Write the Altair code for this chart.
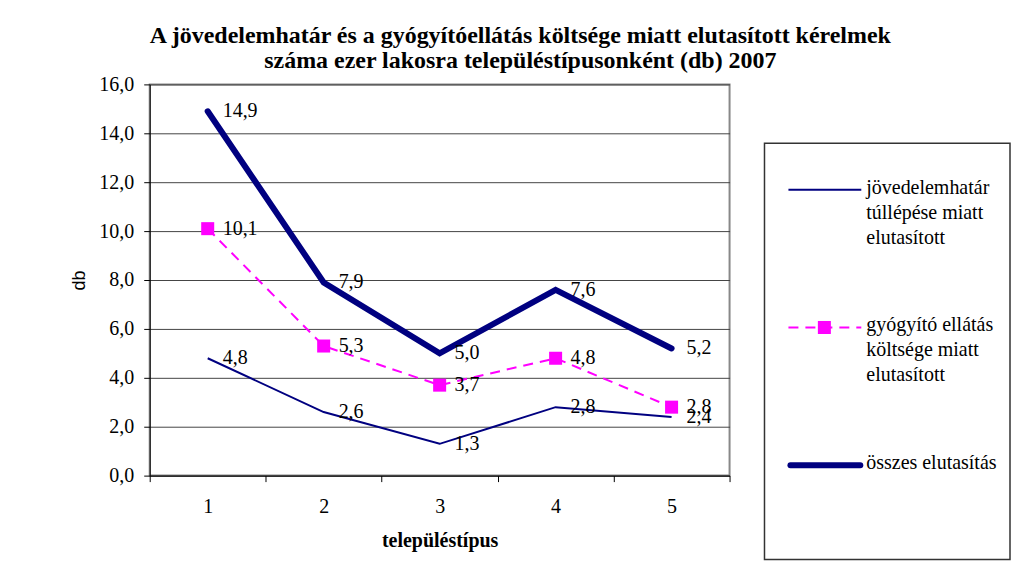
import altair as alt
import pandas as pd

# ---- data ----
categories = ["1", "2", "3", "4", "5"]
series_keys = ["jov", "gyo", "osz"]
jovedelem = [4.8, 2.6, 1.3, 2.8, 2.4]
gyogyito = [10.1, 5.3, 3.7, 4.8, 2.8]
osszes = [14.9, 7.9, 5.0, 7.6, 5.2]
legend_labels = [
    "jövedelemhatár|túllépése miatt|elutasított",
    "gyógyító ellátás|költsége miatt|elutasított",
    "összes elutasítás",
]
y_ticks = [0, 2, 4, 6, 8, 10, 12, 14, 16]
title_lines = [
    "A jövedelemhatár és a gyógyítóellátás költsége miatt elutasított kérelmek",
    "száma ezer lakosra településtípusonként (db) 2007",
]

NAVY = "#000080"
MAGENTA = "#FF00FF"
SERIF = "Liberation Serif"
FS = 20

rows = []
for key, vals in zip(series_keys, [jovedelem, gyogyito, osszes]):
    for c, v in zip(categories, vals):
        rows.append({"tipus": c, "sorozat": key, "ertek": v})
df = pd.DataFrame(rows)

x_enc = alt.X(
    "tipus:O",
    title="településtípus",
    sort=categories,
    scale=alt.Scale(type="band", paddingInner=0, paddingOuter=0),
    axis=alt.Axis(
        labelAngle=0, tickBand="extent", grid=False, domainColor="black",
        tickColor="black", tickSize=6, labelPadding=15, labelFont=SERIF,
        labelFontSize=FS, labelColor="black", titleFont=SERIF, titleFontSize=20,
        titleFontWeight="bold", titleColor="black", titlePadding=14,
    ),
)
y_enc = alt.Y(
    "ertek:Q",
    title="db",
    scale=alt.Scale(domain=[0, 16], nice=False),
    axis=alt.Axis(
        values=y_ticks,
        labelExpr="replace(format(datum.value, '.1f'), '.', ',')",
        domainColor="black", tickColor="black", tickSize=6, labelPadding=10,
        labelFont=SERIF, labelFontSize=FS, labelColor="black",
        gridColor="#444444", gridWidth=1,
        titleFont="Liberation Sans", titleFontSize=18, titleFontWeight="normal",
        titleColor="black", titlePadding=10,
    ),
)

base = alt.Chart(df).encode(x=x_enc, y=y_enc).transform_calculate(
    label="replace(format(datum.ertek, '.1f'), '.', ',')"
)

line1 = base.transform_filter(alt.datum.sorozat == "jov").mark_line(
    color=NAVY, strokeWidth=2
)
line2 = base.transform_filter(alt.datum.sorozat == "gyo").mark_line(
    color=MAGENTA, strokeWidth=2, strokeDash=[10, 7]
)
pts2 = base.transform_filter(alt.datum.sorozat == "gyo").mark_point(
    shape="square", filled=True, size=170, color=MAGENTA, opacity=1
)
line3 = base.transform_filter(alt.datum.sorozat == "osz").mark_line(
    color=NAVY, strokeWidth=6, strokeCap="round", strokeJoin="miter"
)
labels = base.mark_text(
    align="left", baseline="middle", dx=15, font=SERIF, fontSize=FS, color="black"
).encode(text="label:N")

main = alt.layer(line1, line2, pts2, line3, labels).properties(
    width=581, height=392,
    view=alt.ViewBackground(stroke="#888888", strokeWidth=2),
)

# ---- legend panel ----
leg_df = pd.DataFrame({"sorozat": series_keys, "cimke": legend_labels})
leg_y = alt.Y(
    "sorozat:N", sort=series_keys, axis=None,
    scale=alt.Scale(type="point", domain=series_keys, padding=0.51, align=0.33),
)
leg_base = alt.Chart(leg_df).encode(y=leg_y)
r1 = leg_base.transform_filter(alt.datum.sorozat == "jov").mark_rule(
    color=NAVY, strokeWidth=2
).encode(x=alt.value(24), x2=alt.value(97))
r2 = leg_base.transform_filter(alt.datum.sorozat == "gyo").mark_rule(
    color=MAGENTA, strokeWidth=2, strokeDash=[10, 7]
).encode(x=alt.value(24), x2=alt.value(97))
p2 = leg_base.transform_filter(alt.datum.sorozat == "gyo").mark_point(
    shape="square", filled=True, size=170, color=MAGENTA, opacity=1
).encode(x=alt.value(60))
r3 = leg_base.transform_filter(alt.datum.sorozat == "osz").mark_rule(
    color=NAVY, strokeWidth=6, strokeCap="round"
).encode(x=alt.value(26), x2=alt.value(96))
lt = leg_base.mark_text(
    align="left", baseline="top", dy=-12, font=SERIF, fontSize=FS,
    color="black", lineBreak="|", lineHeight=25,
).encode(x=alt.value(102), text="cimke:N")

legend = alt.layer(r1, r2, p2, r3, lt).properties(
    width=246, height=417,
    view=alt.ViewBackground(stroke="#333333", strokeWidth=1.5),
)
spacer = alt.Chart(pd.DataFrame({"a": [0]})).mark_point(opacity=0).properties(
    width=246, height=58, view=alt.ViewBackground(stroke=None)
)
legend_col = alt.vconcat(spacer, legend, spacing=0)

chart = alt.hconcat(main, legend_col, spacing=32).properties(
    title=alt.TitleParams(
        text=title_lines, font="Liberation Serif", fontSize=24, fontWeight="bold",
        lineHeight=25, anchor="middle", color="black", dx=-20, offset=0,
    ),
    padding={"left": 62, "top": 16, "right": 0, "bottom": 0},
).configure_view(strokeWidth=0)

chart.save("out.html", embed_options={"renderer": "svg", "actions": False})
